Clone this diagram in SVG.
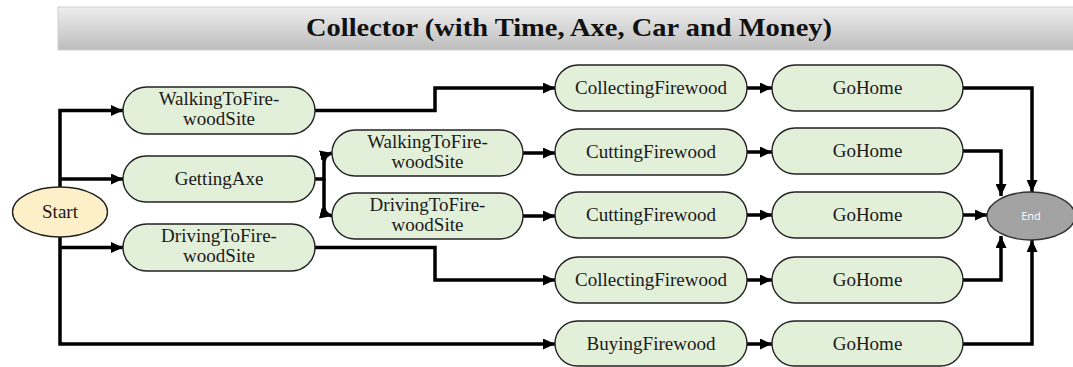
<svg xmlns="http://www.w3.org/2000/svg" width="1073" height="367" viewBox="0 0 1073 367">
<style>
.n{fill:#e2efd9;stroke:#222;stroke-width:1.4}
.t{font-family:"Liberation Serif","Times New Roman",serif;font-size:19px;fill:#1a1a1a;text-anchor:middle}
.c{fill:none;stroke:#000;stroke-width:3.5;marker-end:url(#ah)}
</style>
<defs>
<linearGradient id="tg" x1="0" y1="0" x2="0" y2="1">
<stop offset="0" stop-color="#eeeeee"/>
<stop offset="1" stop-color="#bdbdbd"/>
</linearGradient>
<marker id="ah" markerUnits="userSpaceOnUse" markerWidth="12" markerHeight="11" refX="12" refY="5.5" orient="auto">
<path d="M0,0 L12,5.5 L0,11 Z" fill="#000"/>
</marker>
</defs>
<rect width="1073" height="367" fill="#fff"/>
<g id="title">
<rect x="58" y="7" width="1016" height="43" fill="url(#tg)" stroke="#cfcfcf" stroke-width="1"/>
<text x="569" y="36" font-family="Liberation Serif, serif" font-weight="bold" font-size="26" text-anchor="middle" fill="#111" textLength="526" lengthAdjust="spacingAndGlyphs">Collector (with Time, Axe, Car and Money)</text>
</g>
<g id="connectors">
<path class="c" d="M60,187 V110.5 H123"/>
<path class="c" d="M60,179 H123"/>
<path class="c" d="M60,237 V344 H555"/>
<path class="c" d="M60,247.5 H123"/>
<path class="c" d="M315,110.5 H435 V88 H555"/>
<path class="c" d="M315,247.5 H435 V280 H555"/>
<path class="c" d="M315,179 H324 V162 Q324,155 332,153"/>
<path class="c" d="M324,179 V207 Q324,214 332,216"/>
<path class="c" d="M523,153 H555"/>
<path class="c" d="M523,216 H555"/>
<path class="c" d="M747,88 H772"/>
<path class="c" d="M747,152 H772"/>
<path class="c" d="M747,215 H772"/>
<path class="c" d="M747,280 H772"/>
<path class="c" d="M747,344 H772"/>
<path class="c" d="M963,88 H1032 V192"/>
<path class="c" d="M963,151 H1001 V196"/>
<path class="c" d="M963,215 H987"/>
<path class="c" d="M963,280 H1001 V236"/>
<path class="c" d="M963,344 H1032 V240"/>
</g>
<g id="start">
<ellipse cx="60" cy="212" rx="47.5" ry="25" fill="#fdefc8" stroke="#222" stroke-width="1.4"/>
<text class="t" x="60" y="218">Start</text>
</g>
<g id="end">
<ellipse cx="1031" cy="216" rx="44" ry="24" fill="#a3a3a3" stroke="#333" stroke-width="1.4"/>
<text x="1031" y="220" font-family="Open Sans, sans-serif" font-size="11" fill="#fff" text-anchor="middle">End</text>
</g>
<g id="walk1">
<rect class="n" x="123" y="87" width="192" height="47" rx="23.5"/>
<text class="t" x="219" y="105">WalkingToFire-</text>
<text class="t" x="219" y="125">woodSite</text>
</g>
<g id="axe">
<rect class="n" x="123" y="156" width="192" height="46" rx="23"/>
<text class="t" x="219" y="185">GettingAxe</text>
</g>
<g id="drive1">
<rect class="n" x="123" y="224" width="192" height="47" rx="23.5"/>
<text class="t" x="219" y="242">DrivingToFire-</text>
<text class="t" x="219" y="262">woodSite</text>
</g>
<g id="walk2">
<rect class="n" x="332" y="130" width="191" height="46" rx="23"/>
<text class="t" x="427.5" y="148">WalkingToFire-</text>
<text class="t" x="427.5" y="168">woodSite</text>
</g>
<g id="drive2">
<rect class="n" x="332" y="193" width="191" height="46" rx="23"/>
<text class="t" x="427.5" y="211">DrivingToFire-</text>
<text class="t" x="427.5" y="231">woodSite</text>
</g>
<g id="collect1">
<rect class="n" x="555" y="65" width="192" height="46" rx="23"/>
<text class="t" x="651" y="94">CollectingFirewood</text>
</g>
<g id="cut1">
<rect class="n" x="555" y="129" width="192" height="46" rx="23"/>
<text class="t" x="651" y="158">CuttingFirewood</text>
</g>
<g id="cut2">
<rect class="n" x="555" y="192" width="192" height="46" rx="23"/>
<text class="t" x="651" y="221">CuttingFirewood</text>
</g>
<g id="collect2">
<rect class="n" x="555" y="257" width="192" height="46" rx="23"/>
<text class="t" x="651" y="286">CollectingFirewood</text>
</g>
<g id="buy">
<rect class="n" x="555" y="321" width="192" height="45" rx="22.5"/>
<text class="t" x="651" y="350">BuyingFirewood</text>
</g>
<g id="home1">
<rect class="n" x="772" y="65" width="191" height="46" rx="23"/>
<text class="t" x="867.5" y="94">GoHome</text>
</g>
<g id="home2">
<rect class="n" x="772" y="128" width="191" height="46" rx="23"/>
<text class="t" x="867.5" y="157">GoHome</text>
</g>
<g id="home3">
<rect class="n" x="772" y="192" width="191" height="46" rx="23"/>
<text class="t" x="867.5" y="221">GoHome</text>
</g>
<g id="home4">
<rect class="n" x="772" y="257" width="191" height="46" rx="23"/>
<text class="t" x="867.5" y="286">GoHome</text>
</g>
<g id="home5">
<rect class="n" x="772" y="321" width="191" height="45" rx="22.5"/>
<text class="t" x="867.5" y="350">GoHome</text>
</g>
</svg>
